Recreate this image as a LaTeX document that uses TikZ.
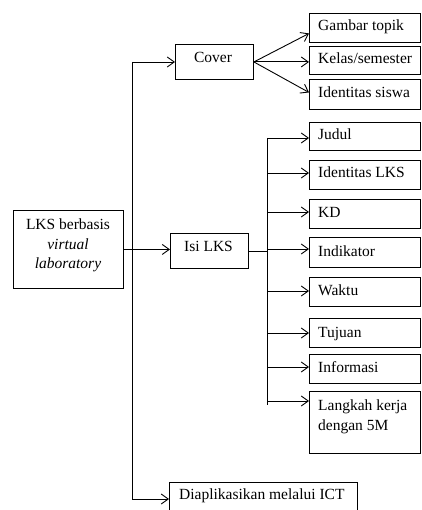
\documentclass[tikz,border=0pt]{standalone}
\usepackage{fontspec}
\setmainfont{Liberation Serif}
\usetikzlibrary{arrows.meta}
\begin{document}
\begin{tikzpicture}[x=1bp,y=-1bp,
  box/.style={draw, line width=0.9bp, inner sep=0pt, anchor=north west},
  lbl/.style={inner sep=0pt, font=\fontsize{15.5bp}{20bp}\selectfont},
  arr/.style={line width=0.9bp, -{Straight Barb[length=7bp,width=10bp,line width=0.9bp]}},
  ln/.style={line width=0.9bp}]
\useasboundingbox (0,0) rectangle (421,510);

% main boxes
\node[box, minimum width=110bp, minimum height=78bp] (lks) at (13,210) {};
\node[lbl, anchor=base] (lksA) at (68,229) {LKS berbasis};
\node[lbl, anchor=base] (lksB) at (68,249) {\itshape virtual};
\node[lbl, anchor=base] (lksC) at (68,268) {\itshape laboratory};

\node[box, minimum width=78bp, minimum height=35bp] (cover) at (175,44) {};
\node[lbl, anchor=base] (coverT) at (213,63) {Cover};

\node[box, minimum width=78bp, minimum height=35bp] (isi) at (170,233) {};
\node[lbl, anchor=base] (isiT) at (208.5,251) {Isi LKS};

\node[box, minimum width=188bp, minimum height=40bp] (dia) at (169,482) {};
\node[lbl, anchor=base west] (diaT) at (179,499) {Diaplikasikan melalui ICT};

% right column boxes
\node[box, minimum width=111bp, minimum height=29bp] (gambar) at (309,13) {};
\node[lbl, anchor=base west] (gambarT) at (318,31) {Gambar topik};
\node[box, minimum width=111bp, minimum height=28bp] (kelas) at (309,46) {};
\node[lbl, anchor=base west] (kelasT) at (318,64) {Kelas/semester};
\node[box, minimum width=111bp, minimum height=30bp] (idsiswa) at (309,79) {};
\node[lbl, anchor=base west] (idsiswaT) at (318,98) {Identitas siswa};

\node[box, minimum width=111bp, minimum height=28bp] (judul) at (309,122) {};
\node[lbl, anchor=base west] (judulT) at (318,140) {Judul};
\node[box, minimum width=111bp, minimum height=29bp] (idlks) at (309,160) {};
\node[lbl, anchor=base west] (idlksT) at (318,178) {Identitas LKS};
\node[box, minimum width=111bp, minimum height=29bp] (kd) at (309,199) {};
\node[lbl, anchor=base west] (kdT) at (318,217) {KD};
\node[box, minimum width=111bp, minimum height=30bp] (ind) at (309,237) {};
\node[lbl, anchor=base west] (indT) at (318,256) {Indikator};
\node[box, minimum width=111bp, minimum height=29bp] (waktu) at (309,277) {};
\node[lbl, anchor=base west] (waktuT) at (318,295) {Waktu};
\node[box, minimum width=111bp, minimum height=29bp] (tujuan) at (309,318) {};
\node[lbl, anchor=base west] (tujuanT) at (318,337) {Tujuan};
\node[box, minimum width=111bp, minimum height=29bp] (info) at (309,354) {};
\node[lbl, anchor=base west] (infoT) at (318,372) {Informasi};
\node[box, minimum width=111bp, minimum height=62bp] (langkah) at (309,391) {};
\node[lbl, anchor=base west] (langkahA) at (318,410) {Langkah kerja};
\node[lbl, anchor=base west] (langkahB) at (318,430) {dengan 5M};

% main trunk
\coordinate (t1) at (132,62);
\coordinate (t2) at (132,499);
\draw[ln] (t1) -- (t2);
\draw[arr] (t1) -- (t1 -| cover.west);
\draw[arr] (t2) -- (t2 -| dia.west);
\draw[arr] (lks.east) -- (lks.east -| isi.west);

% cover fan
\draw[arr] (cover.east) -- ([yshift=-5.5bp]gambar.west);
\draw[arr] (cover.east) -- (cover.east -| kelas.west);
\draw[arr] (cover.east) -- ([yshift=2bp]idsiswa.west);

% isi sub-trunk
\coordinate (s1) at (267,138);
\coordinate (s2) at (267,173);
\coordinate (s3) at (267,212);
\coordinate (s4) at (267,249);
\coordinate (s5) at (267,291);
\coordinate (s6) at (267,333);
\coordinate (s7) at (267,367);
\coordinate (s8) at (267,401);
\coordinate (sEnd) at (267,405);
\draw[ln] (s1) -- (sEnd);
\draw[ln] (isi.east) -- (isi.east -| s1);
\draw[arr] (s1) -- (s1 -| judul.west);
\draw[arr] (s2) -- (s2 -| idlks.west);
\draw[arr] (s3) -- (s3 -| kd.west);
\draw[arr] (s4) -- (s4 -| ind.west);
\draw[arr] (s5) -- (s5 -| waktu.west);
\draw[arr] (s6) -- (s6 -| tujuan.west);
\draw[arr] (s7) -- (s7 -| info.west);
\draw[arr] (s8) -- (s8 -| langkah.west);
\end{tikzpicture}
\end{document}
